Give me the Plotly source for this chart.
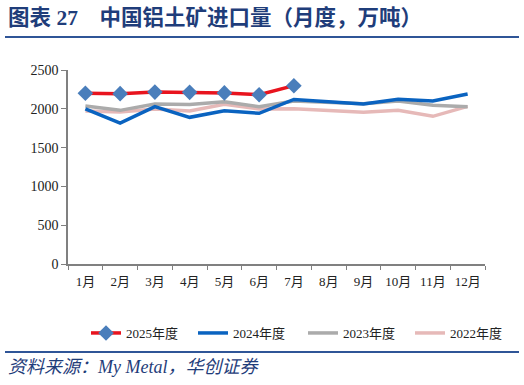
import plotly.graph_objects as go

months = ["1月", "2月", "3月", "4月", "5月", "6月", "7月", "8月", "9月", "10月", "11月", "12月"]
y2025 = [2200, 2195, 2215, 2212, 2205, 2182, 2298]
y2024 = [2000, 1815, 2027, 1890, 1975, 1942, 2120, 2095, 2062, 2122, 2100, 2190]
y2023 = [2036, 1980, 2062, 2055, 2092, 2027, 2100, 2085, 2065, 2100, 2045, 2027]
y2022 = [1972, 1960, 1997, 1972, 2058, 1997, 2000, 1972, 1955, 1980, 1903, 2032]

W, H = 524, 385
L, R, T, B = 68, 39, 70, 121
pw, ph = W - L - R, H - T - B

def px(x):
    return (x - L) / pw

def py(y):
    return (H - B - y) / ph

FONT = "Liberation Serif, Noto Sans CJK SC"

fig = go.Figure()
fig.add_trace(go.Scatter(x=months[:len(y2022)], y=y2022, name="2022年度", mode="lines",
                         legend="legend2", legendrank=2,
                         line=dict(color="#E6B9B8", width=3.5)))
fig.add_trace(go.Scatter(x=months[:len(y2023)], y=y2023, name="2023年度", mode="lines",
                         legend="legend2", legendrank=1,
                         line=dict(color="#ABABAB", width=3.5)))
fig.add_trace(go.Scatter(x=months[:len(y2024)], y=y2024, name="2024年度", mode="lines",
                         legend="legend", legendrank=2,
                         line=dict(color="#0A63C0", width=3.5)))
fig.add_trace(go.Scatter(x=months[:len(y2025)], y=y2025, name="2025年度", mode="lines+markers",
                         legend="legend", legendrank=1,
                         line=dict(color="#E8141E", width=3.5),
                         marker=dict(symbol="diamond", size=12, color="#4A7EBB")))

fig.update_xaxes(type="category", categoryorder="array", categoryarray=months,
                 tickson="boundaries", ticks="outside", ticklen=4, tickcolor="#808080",
                 showline=True, linecolor="#808080", linewidth=1.5, showgrid=False,
                 ticklabelstandoff=5, tickangle=0,
                 tickfont=dict(family=FONT, size=13, color="#222222"),
                 range=[-0.5, 11.5], fixedrange=True)
fig.update_yaxes(range=[0, 2500], dtick=500, ticks="outside", ticklen=5, tickcolor="#808080",
                 showline=True, linecolor="#808080", linewidth=1.5, showgrid=False,
                 zeroline=False, tickfont=dict(family=FONT, size=14, color="#222222"))

legend_common = dict(orientation="h", xref="container", yref="container",
                     xanchor="left", y=1 - 333 / H, yanchor="middle",
                     entrywidth=62, entrywidthmode="pixels", itemwidth=30,
                     font=dict(family=FONT, size=13, color="#222222"),
                     bgcolor="rgba(0,0,0,0)", traceorder="normal")

fig.update_layout(
    width=W, height=H,
    margin=dict(l=L, r=R, t=T, b=B, autoexpand=False),
    paper_bgcolor="white", plot_bgcolor="white",
    showlegend=True,
    legend=dict(x=86 / W, **legend_common),
    legend2=dict(x=303 / W, **legend_common),
    font=dict(family=FONT),
)

fig.add_annotation(text="<b>图表 27    中国铝土矿进口量（月度，万吨）</b>", xref="paper", yref="paper",
                   x=px(6), y=py(18), xanchor="left", yanchor="middle", showarrow=False,
                   font=dict(family=FONT, size=21.5, color="#1F3D7A"))
fig.add_shape(type="line", xref="paper", yref="paper", x0=px(5), x1=px(519), y0=py(37), y1=py(37),
              line=dict(color="#2F5597", width=2))
fig.add_shape(type="line", xref="paper", yref="paper", x0=px(5), x1=px(519), y0=py(352), y1=py(352),
              line=dict(color="#2F5597", width=2))
fig.add_annotation(text="<i>资料来源：My Metal，华创证券</i>", xref="paper", yref="paper",
                   x=px(6), y=py(367), xanchor="left", yanchor="middle", showarrow=False,
                   font=dict(family=FONT, size=18, color="#1F3D7A"))

fig.write_html("out.html", config={"displayModeBar": False},
               post_script="document.body.style.margin='0px';")
